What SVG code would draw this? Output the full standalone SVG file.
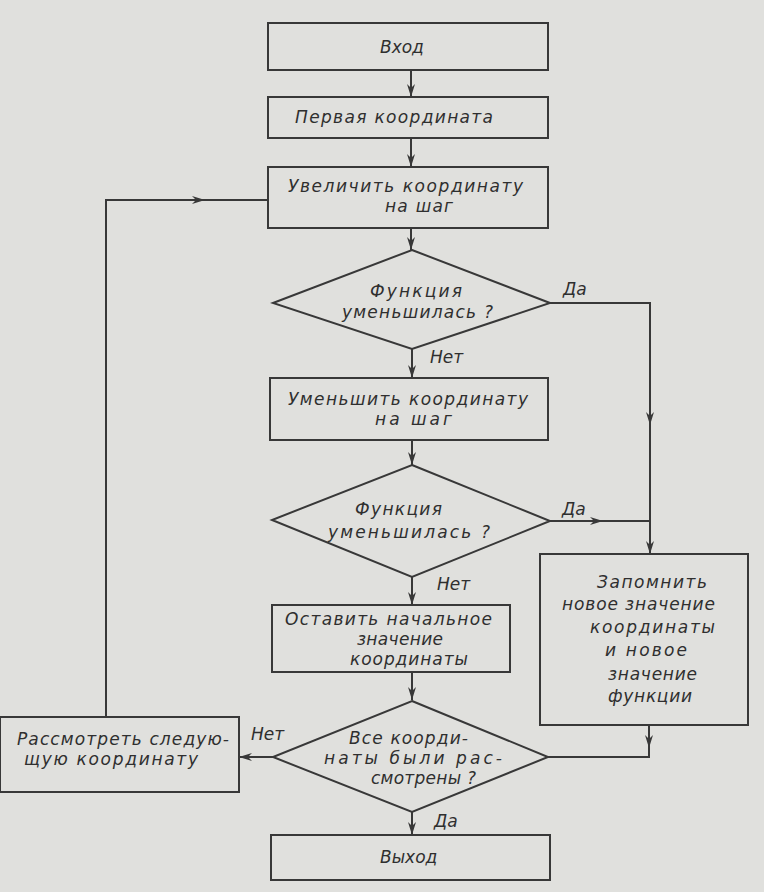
<svg xmlns="http://www.w3.org/2000/svg" width="764" height="892" viewBox="0 0 764 892">
<style>
.shape{fill:none;stroke:#383838;stroke-width:2}
.wire{fill:none;stroke:#383838;stroke-width:2}
text{font-family:"DejaVu Sans","Liberation Sans",sans-serif;font-style:italic;font-size:17px;fill:#2f2f2f}
</style>
<defs>
<marker id="ah" markerUnits="userSpaceOnUse" markerWidth="14" markerHeight="10" refX="13" refY="5" orient="auto">
<path d="M0,1 L13,5 L0,9 L4,5 Z" fill="#383838"/>
</marker>
</defs>
<rect x="0" y="0" width="764" height="892" fill="#e0e0dd"/>
<g id="connectors">
<line class="wire" x1="411" y1="70" x2="411" y2="97" marker-end="url(#ah)"/>
<line class="wire" x1="411" y1="138" x2="411" y2="167" marker-end="url(#ah)"/>
<line class="wire" x1="411" y1="228" x2="411" y2="250" marker-end="url(#ah)"/>
<line class="wire" x1="412" y1="349" x2="412" y2="378" marker-end="url(#ah)"/>
<line class="wire" x1="412" y1="440" x2="412" y2="465" marker-end="url(#ah)"/>
<line class="wire" x1="412" y1="577" x2="412" y2="605" marker-end="url(#ah)"/>
<line class="wire" x1="412" y1="672" x2="412" y2="700" marker-end="url(#ah)"/>
<line class="wire" x1="412" y1="812" x2="412" y2="835" marker-end="url(#ah)"/>
<polyline class="wire" points="550,303 650,303 650,425" marker-end="url(#ah)"/>
<line class="wire" x1="650" y1="424" x2="650" y2="554" marker-end="url(#ah)"/>
<line class="wire" x1="550" y1="521" x2="603" y2="521" marker-end="url(#ah)"/>
<line class="wire" x1="602" y1="521" x2="650" y2="521"/>
<line class="wire" x1="649" y1="725" x2="649" y2="748" marker-end="url(#ah)"/>
<polyline class="wire" points="649,746 649,757 548,757"/>
<line class="wire" x1="273" y1="757" x2="239" y2="757" marker-end="url(#ah)"/>
<polyline class="wire" points="106,717 106,200 205,200" marker-end="url(#ah)"/>
<line class="wire" x1="204" y1="200" x2="268" y2="200"/>
</g>
<g id="entry">
<rect class="shape" x="268" y="23" width="280" height="47"/>
<text x="380" y="53">Вход</text>
</g>
<g id="first">
<rect class="shape" x="268" y="97" width="280" height="41"/>
<text x="295" y="123" textLength="198" lengthAdjust="spacing">Первая координата</text>
</g>
<g id="increase">
<rect class="shape" x="268" y="167" width="280" height="61"/>
<text x="288" y="192" textLength="235" lengthAdjust="spacing">Увеличить координату</text>
<text x="385" y="212" textLength="68" lengthAdjust="spacing">на шаг</text>
</g>
<g id="dec1">
<polygon class="shape" points="412,250 550,303 412,349 273,303"/>
<text x="370" y="297" textLength="92" lengthAdjust="spacing">Функция</text>
<text x="342" y="318" textLength="151" lengthAdjust="spacing">уменьшилась ?</text>
<text x="563" y="295">Да</text>
<text x="430" y="363">Нет</text>
</g>
<g id="decrease">
<rect class="shape" x="270" y="378" width="278" height="62"/>
<text x="288" y="405" textLength="240" lengthAdjust="spacing">Уменьшить координату</text>
<text x="375" y="425" textLength="77" lengthAdjust="spacing">на шаг</text>
</g>
<g id="dec2">
<polygon class="shape" points="412,465 550,521 412,577 272,520"/>
<text x="355" y="515" textLength="87" lengthAdjust="spacing">Функция</text>
<text x="328" y="538" textLength="162" lengthAdjust="spacing">уменьшилась ?</text>
<text x="562" y="515">Да</text>
<text x="437" y="590">Нет</text>
</g>
<g id="keep">
<rect class="shape" x="272" y="605" width="238" height="67"/>
<text x="285" y="625" textLength="207" lengthAdjust="spacing">Оставить начальное</text>
<text x="357" y="645" textLength="86" lengthAdjust="spacing">значение</text>
<text x="350" y="665" textLength="118" lengthAdjust="spacing">координаты</text>
</g>
<g id="remember">
<rect class="shape" x="540" y="554" width="208" height="171"/>
<text x="597" y="588" textLength="110" lengthAdjust="spacing">Запомнить</text>
<text x="562" y="610" textLength="153" lengthAdjust="spacing">новое значение</text>
<text x="590" y="633" textLength="125" lengthAdjust="spacing">координаты</text>
<text x="605" y="656" textLength="82" lengthAdjust="spacing">и новое</text>
<text x="608" y="680" textLength="89" lengthAdjust="spacing">значение</text>
<text x="608" y="702" textLength="84" lengthAdjust="spacing">функции</text>
</g>
<g id="dec3">
<polygon class="shape" points="412,701 548,757 412,812 273,757"/>
<text x="349" y="744" textLength="119" lengthAdjust="spacing">Все коорди-</text>
<text x="324" y="764" textLength="178" lengthAdjust="spacing">наты были рас-</text>
<text x="371" y="784" textLength="105" lengthAdjust="spacing">смотрены ?</text>
<text x="251" y="740">Нет</text>
<text x="434" y="827">Да</text>
</g>
<g id="next">
<rect class="shape" x="0" y="717" width="239" height="75"/>
<text x="17" y="745" textLength="212" lengthAdjust="spacing">Рассмотреть следую-</text>
<text x="24" y="765" textLength="174" lengthAdjust="spacing">щую координату</text>
</g>
<g id="exit">
<rect class="shape" x="271" y="835" width="279" height="45"/>
<text x="380" y="863">Выход</text>
</g>
</svg>
